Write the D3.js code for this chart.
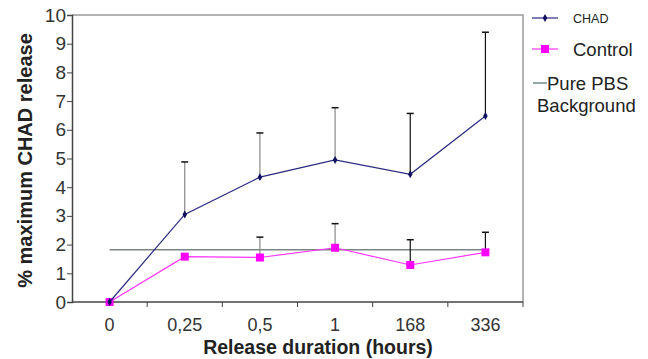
<!DOCTYPE html>
<html>
<head>
<meta charset="utf-8">
<script src="https://cdn.jsdelivr.net/npm/d3@7"></script>
<style>
  body { margin: 0; background: #fff; }
  text { font-family: "Liberation Sans", Arial, sans-serif; }
</style>
</head>
<body>
<div id="chart"></div>
<script>
// values
var durations = ["0", "0,25", "0,5", "1", "168", "336"];
var chadMean = [0, 3.05, 4.35, 4.95, 4.45, 6.48];
var chadUpper = [0, 4.88, 5.89, 6.77, 6.57, 9.4];
var controlMean = [0, 1.58, 1.55, 1.89, 1.29, 1.73];
var controlUpper = [0, null, 2.26, 2.73, 2.17, 2.43];
var pbsBackground = 1.82;
var yTicks = [0, 1, 2, 3, 4, 5, 6, 7, 8, 9, 10];

// error bar colour per time point (grey early, black later)
var errColor = ["#888", "#888", "#888", "#888", "#111", "#111"];

var margin = { top: 15, right: 125, bottom: 57, left: 72 },
  width = 648 - margin.left - margin.right,
  height = 359 - margin.top - margin.bottom;

var svg = d3.select("#chart").append("svg")
  .attr("width", 648)
  .attr("height", 359);

var g = svg.append("g")
  .attr("transform", "translate(" + margin.left + "," + margin.top + ")");

var x = d3.scaleBand()
  .domain(durations)
  .range([0, width]);

var y = d3.scaleLinear()
  .domain([0, 10])
  .range([height, 0]);

function cx(i) { return x(durations[i]) + x.bandwidth() / 2; }

// plot frame (top and right in grey)
g.append("path")
  .attr("d", "M0,0H" + width + "V" + height)
  .attr("fill", "none")
  .attr("stroke", "#999")
  .attr("stroke-width", 1.5);

// y axis
var yAxis = g.append("g")
  .call(d3.axisLeft(y).tickValues(yTicks).tickSize(5).tickPadding(1));
yAxis.select(".domain").attr("stroke", "#444").attr("stroke-width", 1.5);
yAxis.selectAll(".tick line").attr("stroke", "#444");
yAxis.selectAll("text").style("font-size", "19px").attr("fill", "#333");

// x axis: ticks at band boundaries
var xAxis = g.append("g")
  .attr("transform", "translate(0," + height + ")");
xAxis.append("line")
  .attr("x1", 0).attr("x2", width)
  .attr("stroke", "#444").attr("stroke-width", 1.5);
xAxis.selectAll(".bt")
  .data(durations.slice(1).concat(["end"]))
  .enter().append("line")
  .attr("x1", function (d, i) { return x.step() * (i + 1); })
  .attr("x2", function (d, i) { return x.step() * (i + 1); })
  .attr("y1", 0).attr("y2", 5)
  .attr("stroke", "#444");
xAxis.selectAll(".lbl")
  .data(durations)
  .enter().append("text")
  .attr("x", function (d, i) { return cx(i); })
  .attr("y", 29)
  .attr("text-anchor", "middle")
  .style("font-size", "18px")
  .attr("fill", "#333")
  .text(function (d) { return d; });

// axis titles
svg.append("text")
  .attr("x", 318)
  .attr("y", 354)
  .attr("text-anchor", "middle")
  .style("font-size", "19.5px")
  .style("font-weight", "bold")
  .attr("fill", "#222")
  .text("Release duration (hours)");

svg.append("text")
  .attr("transform", "translate(32," + (margin.top + height / 2 + 2) + ") rotate(-90)")
  .attr("text-anchor", "middle")
  .style("font-size", "20px")
  .style("font-weight", "bold")
  .attr("fill", "#222")
  .text("% maximum CHAD release");

// PBS background line
g.append("line")
  .attr("x1", cx(0)).attr("x2", cx(durations.length - 1))
  .attr("y1", y(pbsBackground)).attr("y2", y(pbsBackground))
  .attr("stroke", "#7a8686").attr("stroke-width", 1.5);

// error bars (upper only)
function errorBars(mean, upper) {
  mean.forEach(function (m, i) {
    if (upper[i] == null || upper[i] <= m) return;
    g.append("line")
      .attr("x1", cx(i)).attr("x2", cx(i))
      .attr("y1", y(m)).attr("y2", y(upper[i]))
      .attr("stroke", errColor[i]).attr("stroke-width", 1.2);
    g.append("line")
      .attr("x1", cx(i) - 3.5).attr("x2", cx(i) + 3.5)
      .attr("y1", y(upper[i])).attr("y2", y(upper[i]))
      .attr("stroke", "#111").attr("stroke-width", 1.5);
  });
}
errorBars(chadMean, chadUpper);
errorBars(controlMean, controlUpper);

var line = d3.line()
  .x(function (d, i) { return cx(i); })
  .y(function (d) { return y(d); });

// control series
g.append("path")
  .datum(controlMean)
  .attr("d", line)
  .attr("fill", "none")
  .attr("stroke", "#ff33ff")
  .attr("stroke-width", 1.2);
g.selectAll(".ctl")
  .data(controlMean)
  .enter().append("rect")
  .attr("x", function (d, i) { return cx(i) - 4; })
  .attr("y", function (d) { return y(d) - 4; })
  .attr("width", 8).attr("height", 8)
  .attr("fill", "#ff00ff");

// CHAD series
g.append("path")
  .datum(chadMean)
  .attr("d", line)
  .attr("fill", "none")
  .attr("stroke", "#2a2a80")
  .attr("stroke-width", 1.2);
g.selectAll(".chad")
  .data(chadMean)
  .enter().append("path")
  .attr("transform", function (d, i) { return "translate(" + cx(i) + "," + y(d) + ")"; })
  .attr("d", d3.symbol().type(d3.symbolDiamond).size(18))
  .attr("fill", "#101060");

// legend
var lg = svg.append("g");
lg.append("line").attr("x1", 532).attr("x2", 558).attr("y1", 18).attr("y2", 18)
  .attr("stroke", "#2a2a80").attr("stroke-width", 1.2);
lg.append("path").attr("transform", "translate(545,18)")
  .attr("d", d3.symbol().type(d3.symbolDiamond).size(18)).attr("fill", "#101060");
lg.append("text").attr("x", 573).attr("y", 23).style("font-size", "12.5px")
  .attr("fill", "#222").text("CHAD");

lg.append("line").attr("x1", 532).attr("x2", 558).attr("y1", 49).attr("y2", 49)
  .attr("stroke", "#ff33ff").attr("stroke-width", 1.2);
lg.append("rect").attr("x", 541).attr("y", 45).attr("width", 8).attr("height", 8)
  .attr("fill", "#ff00ff");
lg.append("text").attr("x", 573).attr("y", 56).style("font-size", "18.5px")
  .attr("fill", "#222").text("Control");

lg.append("line").attr("x1", 533).attr("x2", 547).attr("y1", 83).attr("y2", 83)
  .attr("stroke", "#4f7070").attr("stroke-width", 1.2);
lg.append("text").attr("x", 547).attr("y", 90).style("font-size", "18.5px")
  .attr("fill", "#222").text("Pure PBS");
lg.append("text").attr("x", 537).attr("y", 112).style("font-size", "18.5px")
  .attr("fill", "#222").text("Background");
</script>
</body>
</html>
